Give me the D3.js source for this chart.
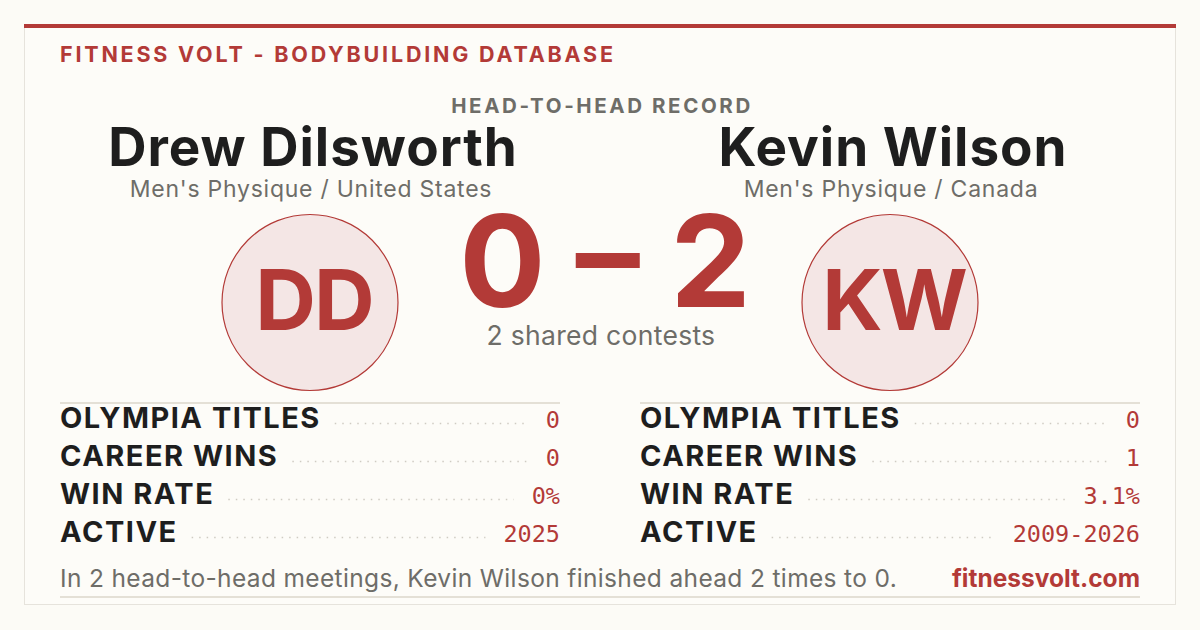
<!DOCTYPE html>
<html>
<head>
  <style>
    body {
      margin: 0;
      background: #fcfbf6;
    }
    text {
      font-family: Inter, "Noto Sans", sans-serif;
    }
    .mono {
      font-family: "DejaVu Sans Mono", monospace;
    }
  </style>
</head>
<body>
  <script src="https://d3js.org/d3.v7.min.js"></script>
  <script>
    var width = 1200, height = 630;

    // chart data
    var players = ["Drew Dilsworth", "Kevin Wilson"];
    var initials = ["DD", "KW"];
    var divisions = ["Men's Physique / United States", "Men's Physique / Canada"];
    var score = [0, 2];
    var sharedContests = 2;
    var statLabels = ["OLYMPIA TITLES", "CAREER WINS", "WIN RATE", "ACTIVE"];
    var statsA = ["0", "0", "0%", "2025"];
    var statsB = ["0", "1", "3.1%", "2009-2026"];
    var summary = "In 2 head-to-head meetings, Kevin Wilson finished ahead 2 times to 0.";

    var red = "#b33a37", ink = "#1e1e1e", grey = "#6e6d68", rule = "#e4e0d6";

    var svg = d3.select("body").append("svg")
        .attr("width", width)
        .attr("height", height);

    // card
    svg.append("rect")
        .attr("x", 24.5).attr("y", 26.5)
        .attr("width", 1151).attr("height", 578)
        .attr("fill", "#fdfcf8")
        .attr("stroke", "#e6e3dc");
    svg.append("rect")
        .attr("x", 24).attr("y", 24)
        .attr("width", 1152).attr("height", 4)
        .attr("fill", red);

    svg.append("text")
        .attr("x", 60).attr("y", 62)
        .attr("fill", red)
        .style("font-size", "21.5px").style("font-weight", 700)
        .style("letter-spacing", "2.8px")
        .text("FITNESS VOLT - BODYBUILDING DATABASE");

    svg.append("text")
        .attr("x", 602).attr("y", 113)
        .attr("text-anchor", "middle")
        .attr("fill", grey)
        .style("font-size", "20.5px").style("font-weight", 700)
        .style("letter-spacing", "2.6px")
        .text("HEAD-TO-HEAD RECORD");

    // two columns, 500px wide with an 80px gap
    var col = d3.scaleBand().domain([0, 1]).range([60, 1140]).paddingInner(80 / 580);
    var cx = function(i) { return col(i) + col.bandwidth() / 2; };

    svg.selectAll(".name")
        .data(players)
      .enter().append("text")
        .attr("class", "name")
        .attr("x", (d, i) => cx(i) + 3)
        .attr("y", 166)
        .attr("text-anchor", "middle")
        .attr("fill", ink)
        .style("font-size", "53px").style("font-weight", 700)
        .style("letter-spacing", "1px")
        .text(d => d);

    svg.selectAll(".division")
        .data(divisions)
      .enter().append("text")
        .attr("class", "division")
        .attr("x", (d, i) => cx(i) + 1)
        .attr("y", 197)
        .attr("text-anchor", "middle")
        .attr("fill", grey)
        .style("font-size", "23px")
        .style("letter-spacing", "0.75px")
        .text(d => d);

    var badge = svg.selectAll(".badge")
        .data(initials)
      .enter().append("g")
        .attr("class", "badge")
        .attr("transform", (d, i) => "translate(" + cx(i) + ",302.5)");
    badge.append("circle")
        .attr("r", 88)
        .attr("fill", "#f4e6e5")
        .attr("stroke", red)
        .attr("stroke-width", 1.2);
    badge.append("text")
        .attr("x", 4)
        .attr("y", 27)
        .attr("text-anchor", "middle")
        .attr("fill", red)
        .style("font-size", "84px").style("font-weight", 700)
        .style("letter-spacing", "-2px")
        .text(d => d);

    svg.append("text")
        .attr("x", 605).attr("y", 307)
        .attr("text-anchor", "middle")
        .attr("fill", red)
        .style("font-size", "128px").style("font-weight", 700)
        .text(score[0] + " \u2013 " + score[1]);

    svg.append("text")
        .attr("x", 601).attr("y", 345)
        .attr("text-anchor", "middle")
        .attr("fill", grey)
        .style("font-size", "26.5px")
        .style("letter-spacing", "0.3px")
        .text(sharedContests + " shared contests");

    // stat tables
    var row = d3.scaleBand().domain(statLabels).range([403, 555]);
    var tables = [statsA, statsB];

    tables.forEach(function(vals, i) {
      var x0 = col(i), x1 = col(i) + col.bandwidth();
      var g = svg.append("g");

      g.append("line")
          .attr("x1", x0).attr("x2", x1)
          .attr("y1", 403).attr("y2", 403)
          .attr("stroke", rule).attr("stroke-width", 2);

      var r = g.selectAll(".row")
          .data(statLabels)
        .enter().append("g")
          .attr("class", "row")
          .attr("transform", d => "translate(0," + (row(d) + 24.5) + ")");

      var lab = r.append("text")
          .attr("x", x0)
          .attr("fill", ink)
          .style("font-size", "29px").style("font-weight", 700)
          .style("letter-spacing", "1.5px")
          .text(d => d);

      var val = r.append("text")
          .attr("class", "mono")
          .attr("x", x1)
          .attr("text-anchor", "end")
          .attr("fill", red)
          .style("font-size", "23.5px")
          .text((d, j) => vals[j]);

      // dotted leaders between label and value
      r.each(function(d, j) {
        var lw = lab.nodes()[j].getComputedTextLength();
        var vw = val.nodes()[j].getComputedTextLength();
        d3.select(this).insert("line", "text")
            .attr("x1", x0 + lw + 14)
            .attr("x2", x1 - vw - 18)
            .attr("y1", -4).attr("y2", -4)
            .attr("stroke", "#cfcbc2")
            .attr("stroke-width", 1.5)
            .attr("stroke-dasharray", "1.5,6");
      });
    });

    // footer
    svg.append("text")
        .attr("x", 60).attr("y", 587)
        .attr("fill", grey)
        .style("font-size", "24.5px")
        .style("letter-spacing", "0.35px")
        .text(summary);

    svg.append("text")
        .attr("x", 1140).attr("y", 587)
        .attr("text-anchor", "end")
        .attr("fill", red)
        .style("font-size", "24.5px").style("font-weight", 700)
        .text("fitnessvolt.com");

    svg.append("line")
        .attr("x1", 60).attr("x2", 1140)
        .attr("y1", 597).attr("y2", 597)
        .attr("stroke", rule).attr("stroke-width", 2);
  </script>
</body>
</html>
